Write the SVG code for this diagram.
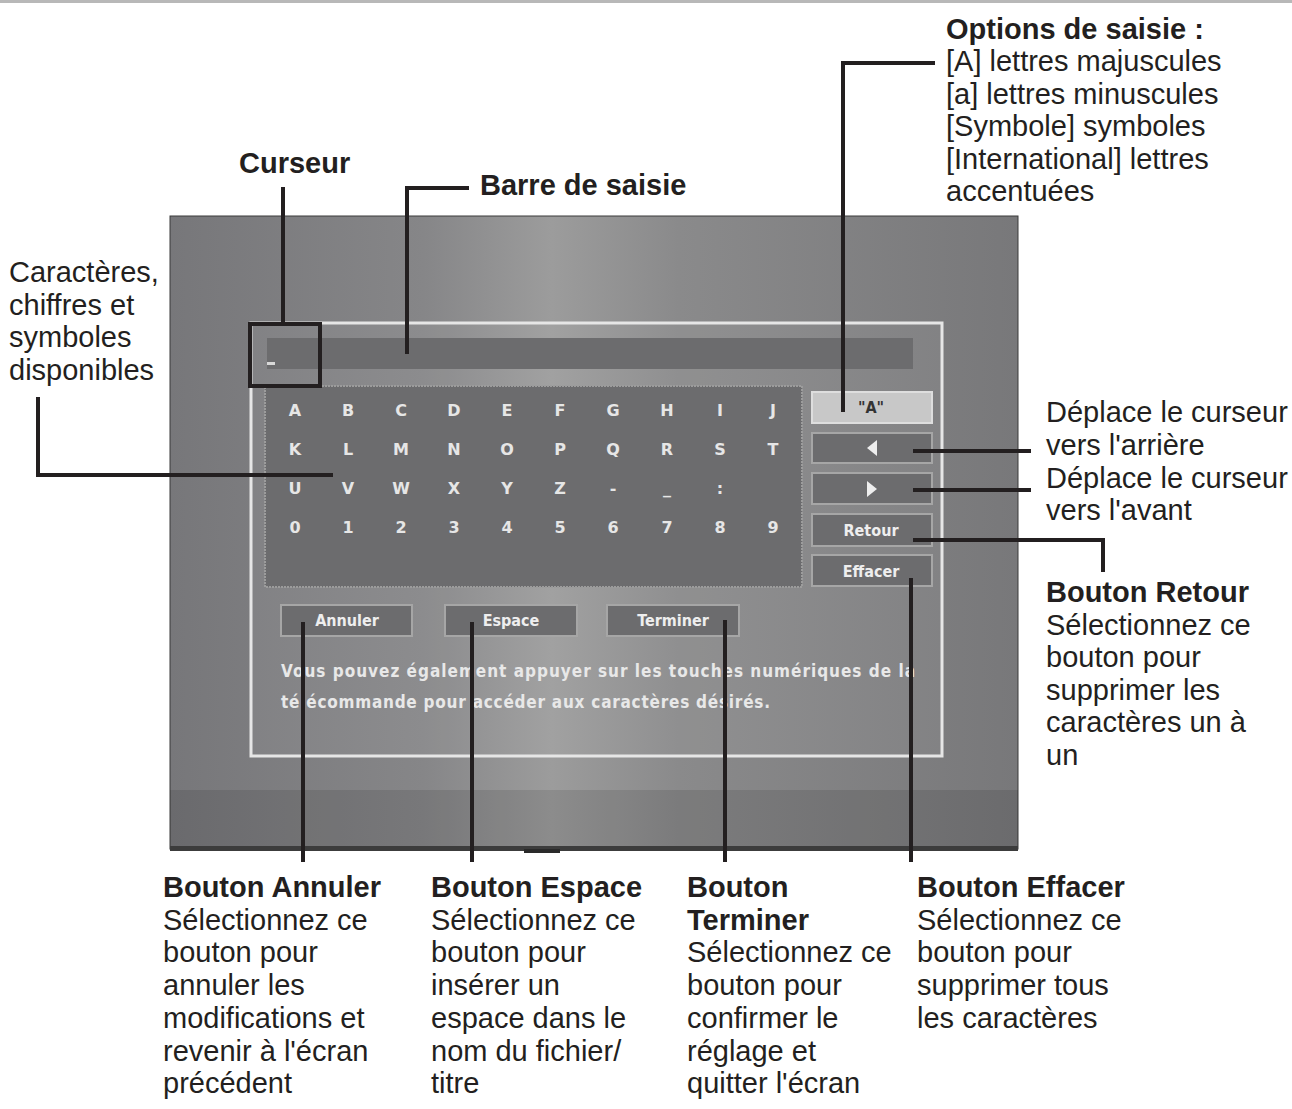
<svg xmlns="http://www.w3.org/2000/svg" width="1292" height="1109" viewBox="0 0 1292 1109">
<style>
.lbl{font-family:"Liberation Sans",Arial,Helvetica,sans-serif;font-size:29px;fill:#231f20}
.b{font-weight:bold}
.key{font-family:"DejaVu Sans","Liberation Sans",sans-serif;font-size:16px;font-weight:bold;fill:#e6e6e6;text-anchor:middle}
.btxt{font-family:"DejaVu Sans Condensed","DejaVu Sans",sans-serif;font-size:16px;font-weight:bold;fill:#eeeeee;text-anchor:middle}
.msg{font-family:"DejaVu Sans Condensed","DejaVu Sans",sans-serif;font-size:17px;font-weight:bold;fill:#e8e8e8}
.btn{fill:#6c6c6e;stroke:#a6a6a6;stroke-width:2}
.ld{fill:none;stroke:#231f20;stroke-width:4}
</style>
<defs>
<linearGradient id="scrG" x1="0" y1="0" x2="1" y2="0">
<stop offset="0" stop-color="#77777a"/>
<stop offset="0.3" stop-color="#868688"/>
<stop offset="0.45" stop-color="#9c9c9c"/>
<stop offset="0.6" stop-color="#8a8a8b"/>
<stop offset="1" stop-color="#78787a"/>
</linearGradient>
</defs>
<rect x="0" y="0" width="1292" height="1109" fill="#ffffff"/>
<rect x="0" y="0" width="1292" height="3" fill="#b8b8b8"/>

<g id="screen">
<rect x="170" y="216" width="848" height="633" fill="url(#scrG)" stroke="#3a3a3a" stroke-width="1"/>
<rect x="170" y="790" width="848" height="58" fill="#000" opacity="0.1"/>
<rect x="170" y="846" width="848" height="5" fill="#3c3c3c"/>
<rect x="524" y="849" width="36" height="4" fill="#2a2a2a"/>
<rect x="251" y="323" width="691" height="433" fill="#ffffff" fill-opacity="0.05" stroke="#e6e6e6" stroke-width="3"/>
<rect id="inputbar" x="267" y="338" width="646" height="31" fill="#6c6c6e"/>
<rect x="267" y="362" width="8" height="3" fill="#d8d8d8"/>
<rect id="keypad" x="265" y="386" width="537" height="201" fill="#6c6c6e" stroke="#9c9c9c" stroke-width="2" stroke-dasharray="2 1"/>
<g>
<text class="key" x="295" y="416">A</text><text class="key" x="348" y="416">B</text><text class="key" x="401" y="416">C</text><text class="key" x="454" y="416">D</text><text class="key" x="507" y="416">E</text><text class="key" x="560" y="416">F</text><text class="key" x="613" y="416">G</text><text class="key" x="667" y="416">H</text><text class="key" x="720" y="416">I</text><text class="key" x="773" y="416">J</text>
<text class="key" x="295" y="455">K</text><text class="key" x="348" y="455">L</text><text class="key" x="401" y="455">M</text><text class="key" x="454" y="455">N</text><text class="key" x="507" y="455">O</text><text class="key" x="560" y="455">P</text><text class="key" x="613" y="455">Q</text><text class="key" x="667" y="455">R</text><text class="key" x="720" y="455">S</text><text class="key" x="773" y="455">T</text>
<text class="key" x="295" y="494">U</text><text class="key" x="348" y="494">V</text><text class="key" x="401" y="494">W</text><text class="key" x="454" y="494">X</text><text class="key" x="507" y="494">Y</text><text class="key" x="560" y="494">Z</text><text class="key" x="613" y="494">-</text><text class="key" x="667" y="494">_</text><text class="key" x="720" y="494">:</text>
<text class="key" x="295" y="533">0</text><text class="key" x="348" y="533">1</text><text class="key" x="401" y="533">2</text><text class="key" x="454" y="533">3</text><text class="key" x="507" y="533">4</text><text class="key" x="560" y="533">5</text><text class="key" x="613" y="533">6</text><text class="key" x="667" y="533">7</text><text class="key" x="720" y="533">8</text><text class="key" x="773" y="533">9</text>
</g>
<g id="btnA"><rect x="812" y="392" width="120" height="31" fill="#c8c8c8" stroke="#dedede" stroke-width="2"/><text class="btxt" x="871" y="413" style="fill:#333">"A"</text></g>
<g id="btnLeft"><rect class="btn" x="812" y="433" width="120" height="30"/><polygon points="877,440 877,456 867,448" fill="#eeeeee"/></g>
<g id="btnRight"><rect class="btn" x="812" y="473" width="120" height="31"/><polygon points="867,481 867,497 877,489" fill="#eeeeee"/></g>
<g id="btnRetour"><rect class="btn" x="812" y="514" width="120" height="32"/><text class="btxt" x="871" y="536">Retour</text></g>
<g id="btnEffacer"><rect class="btn" x="812" y="555" width="120" height="31"/><text class="btxt" x="871" y="577">Effacer</text></g>
<g id="btnAnnuler"><rect class="btn" x="281" y="605" width="131" height="31"/><text class="btxt" x="347" y="626">Annuler</text></g>
<g id="btnEspace"><rect class="btn" x="445" y="605" width="132" height="31"/><text class="btxt" x="511" y="626">Espace</text></g>
<g id="btnTerminer"><rect class="btn" x="607" y="605" width="132" height="31"/><text class="btxt" x="673" y="626">Terminer</text></g>
<text class="msg" x="281" y="677" textLength="634" lengthAdjust="spacing">Vous pouvez également appuyer sur les touches numériques de la</text>
<text class="msg" x="281" y="708" textLength="489" lengthAdjust="spacing">télécommande pour accéder aux caractères désirés.</text>
</g>

<g id="connectors">
<rect x="250" y="324" width="70" height="62" class="ld"/>
<path class="ld" d="M283,187 V322"/>
<path class="ld" d="M469,188 H407 V354"/>
<path class="ld" d="M935,63 H843 V412"/>
<path class="ld" d="M38,397 V475 H333"/>
<path class="ld" d="M913,451 H1031"/>
<path class="ld" d="M913,490 H1031"/>
<path class="ld" d="M913,540 H1103 V572"/>
<path class="ld" d="M911,578 V862"/>
<path class="ld" d="M303,622 V862"/>
<path class="ld" d="M472,622 V862"/>
<path class="ld" d="M725,620 V862"/>
</g>

<g id="lbl-curseur"><text class="lbl b" x="239" y="173">Curseur</text></g>
<g id="lbl-barre"><text class="lbl b" x="480" y="195">Barre de saisie</text></g>
<g id="lbl-options">
<text class="lbl b" x="946" y="38.5">Options de saisie :</text>
<text class="lbl" x="946" y="71">[A] lettres majuscules</text>
<text class="lbl" x="946" y="103.5">[a] lettres minuscules</text>
<text class="lbl" x="946" y="136">[Symbole] symboles</text>
<text class="lbl" x="946" y="168.5">[International] lettres</text>
<text class="lbl" x="946" y="201">accentuées</text>
</g>
<g id="lbl-caracteres">
<text class="lbl" x="9" y="282">Caractères,</text>
<text class="lbl" x="9" y="314.5">chiffres et</text>
<text class="lbl" x="9" y="347">symboles</text>
<text class="lbl" x="9" y="379.5">disponibles</text>
</g>
<g id="lbl-arriere">
<text class="lbl" x="1046" y="422">Déplace le curseur</text>
<text class="lbl" x="1046" y="455">vers l'arrière</text>
</g>
<g id="lbl-avant">
<text class="lbl" x="1046" y="488">Déplace le curseur</text>
<text class="lbl" x="1046" y="520">vers l'avant</text>
</g>
<g id="lbl-retour">
<text class="lbl b" x="1046" y="602">Bouton Retour</text>
<text class="lbl" x="1046" y="634.5">Sélectionnez ce</text>
<text class="lbl" x="1046" y="667">bouton pour</text>
<text class="lbl" x="1046" y="699.5">supprimer les</text>
<text class="lbl" x="1046" y="732">caractères un à</text>
<text class="lbl" x="1046" y="764.5">un</text>
</g>
<g id="lbl-annuler">
<text class="lbl b" x="163" y="897">Bouton Annuler</text>
<text class="lbl" x="163" y="929.7">Sélectionnez ce</text>
<text class="lbl" x="163" y="962.4">bouton pour</text>
<text class="lbl" x="163" y="995.1">annuler les</text>
<text class="lbl" x="163" y="1027.8">modifications et</text>
<text class="lbl" x="163" y="1060.5">revenir à l'écran</text>
<text class="lbl" x="163" y="1093.2">précédent</text>
</g>
<g id="lbl-espace">
<text class="lbl b" x="431" y="897">Bouton Espace</text>
<text class="lbl" x="431" y="929.7">Sélectionnez ce</text>
<text class="lbl" x="431" y="962.4">bouton pour</text>
<text class="lbl" x="431" y="995.1">insérer un</text>
<text class="lbl" x="431" y="1027.8">espace dans le</text>
<text class="lbl" x="431" y="1060.5">nom du fichier/</text>
<text class="lbl" x="431" y="1093.2">titre</text>
</g>
<g id="lbl-terminer">
<text class="lbl b" x="687" y="897">Bouton</text>
<text class="lbl b" x="687" y="929.7">Terminer</text>
<text class="lbl" x="687" y="962.4">Sélectionnez ce</text>
<text class="lbl" x="687" y="995.1">bouton pour</text>
<text class="lbl" x="687" y="1027.8">confirmer le</text>
<text class="lbl" x="687" y="1060.5">réglage et</text>
<text class="lbl" x="687" y="1093.2">quitter l'écran</text>
</g>
<g id="lbl-effacer">
<text class="lbl b" x="917" y="897">Bouton Effacer</text>
<text class="lbl" x="917" y="929.7">Sélectionnez ce</text>
<text class="lbl" x="917" y="962.4">bouton pour</text>
<text class="lbl" x="917" y="995.1">supprimer tous</text>
<text class="lbl" x="917" y="1027.8">les caractères</text>
</g>
</svg>
